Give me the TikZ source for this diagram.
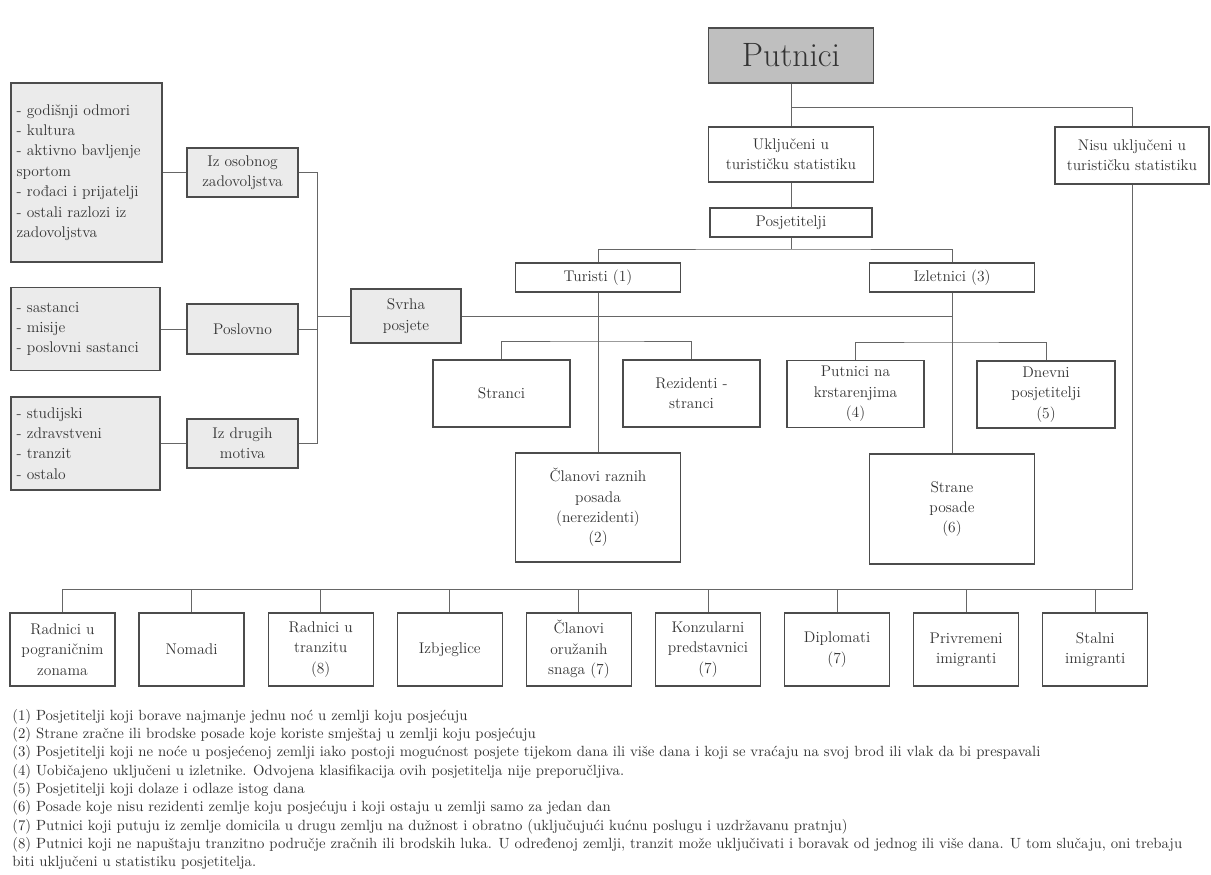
\documentclass[tikz,border=0pt]{standalone}
\usepackage{fontspec}
\begin{document}
\begin{tikzpicture}[x=0.025cm,y=-0.025cm,
    box/.style={draw=black!70,line width=0.9pt,fill=white,text=black!80,align=center,inner sep=2pt,font=\fontsize{11}{14.5}\selectfont},
    greybox/.style={box,fill=black!8},
    listbox/.style={greybox,align=left,inner xsep=4pt},
    link/.style={draw=black!60,line width=0.7pt}]
  \useasboundingbox (0,0) rectangle (1211,875);
  \node[box,fill=black!25,minimum width=4.125cm,minimum height=1.375cm,font=\fontsize{24}{28}\selectfont] (put) at (791,55.5) {Putnici};
  \node[box,minimum width=4.125cm,minimum height=1.375cm] (ukl) at (791,154.5) {Uključeni u\\turističku statistiku};
  \node[box,minimum width=3.85cm,minimum height=1.425cm] (nisu) at (1132,155.5) {Nisu uključeni u\\turističku statistiku};
  \node[box,minimum width=4.05cm,minimum height=0.725cm] (pos) at (791,222.5) {Posjetitelji};
  \node[box,minimum width=4.125cm,minimum height=0.725cm] (tur) at (598,277.5) {Turisti (1)};
  \node[box,minimum width=4.125cm,minimum height=0.725cm] (izl) at (952,277.5) {Izletnici (3)};
  \node[box,minimum width=3.425cm,minimum height=1.675cm] (str) at (501.5,393.5) {Stranci};
  \node[box,minimum width=3.425cm,minimum height=1.675cm] (rez) at (691.5,393.5) {Rezidenti -\\stranci};
  \node[box,minimum width=3.425cm,minimum height=1.675cm] (krs) at (855.5,394) {Putnici na\\krstarenjima\\(4)};
  \node[box,minimum width=3.45cm,minimum height=1.675cm] (dnv) at (1046,394.5) {Dnevni\\posjetitelji\\(5)};
  \node[box,minimum width=4.125cm,minimum height=2.725cm] (clp) at (598,507.5) {Članovi raznih\\posada\\(nerezidenti)\\(2)};
  \node[box,minimum width=4.125cm,minimum height=2.75cm] (stp) at (952,509) {Strane\\posade\\(6)};

  \node[listbox,text width=3.49cm,minimum height=4.475cm] (lst1) at (86.5,172.5) {- godišnji odmori\\- kultura\\- aktivno bavljenje\\sportom\\- rođaci i prijatelji\\- ostali razlozi iz\\zadovoljstva};
  \node[listbox,text width=3.44cm,minimum height=2.075cm] (lst2) at (85.5,329) {- sastanci\\- misije\\- poslovni sastanci};
  \node[listbox,text width=3.44cm,minimum height=2.325cm] (lst3) at (85.5,443.5) {- studijski\\- zdravstveni\\- tranzit\\- ostalo};
  \node[greybox,minimum width=2.775cm,minimum height=1.225cm] (osz) at (242.5,172.5) {Iz osobnog\\zadovoljstva};
  \node[greybox,minimum width=2.775cm,minimum height=1.25cm] (psl) at (242.5,329) {Poslovno};
  \node[greybox,minimum width=2.775cm,minimum height=1.225cm] (drm) at (242.5,443.5) {Iz drugih\\motiva};
  \node[greybox,minimum width=2.75cm,minimum height=1.35cm] (svr) at (406,316) {Svrha\\posjete};

  \foreach \t [count=\i from 0] in {{Radnici u\\pograničnim\\zonama},{Nomadi},{Radnici u\\tranzitu\\(8)},{Izbjeglice},{Članovi\\oružanih\\snaga (7)},{Konzularni\\predstavnici\\(7)},{Diplomati\\(7)},{Privremeni\\imigranti},{Stalni\\imigranti}}
    \node[box,minimum width=2.625cm,minimum height=1.825cm] (b\i) at ({62.5+129.1*\i},649.5) {\t};

  \coordinate (jtop) at (791,107);
  \coordinate (jvis) at (791,249);
  \coordinate (jtur) at (598,341);
  \coordinate (jizl) at (952,342);
  \coordinate (jsvr) at (317,316);
  \coordinate (jbot) at (1132,589);

  \draw[link] (put) -- (ukl);
  \draw[link] (jtop) -| (nisu);
  \draw[link] (ukl) -- (pos);
  \draw[link] (pos) -- (jvis);
  \draw[link] (tur) |- (jvis) -| (izl);
  \draw[link] (tur) -- (clp);
  \draw[link] (izl) -- (stp);
  \draw[link] (str.north) |- (jtur) -| (rez.north);
  \draw[link] (krs.north) |- (jizl) -| (dnv.north);

  \draw[link] (lst1) -- (osz);
  \draw[link] (lst2) -- (psl);
  \draw[link] (lst3) -- (drm);
  \draw[link] (osz.east) -- ++(19,0) |- (drm.east);
  \draw[link] (psl.east) -- (psl.east -| jsvr);
  \draw[link] (jsvr) -- (svr);
  \draw[link] (svr.east) -- (svr.east -| izl);

  \draw[link] (nisu) -- (jbot) -- (jbot -| b0) -- (b0);
  \foreach \i in {1,...,8}
    \draw[link] (jbot -| b\i) -- (b\i);

  \node[anchor=north west,align=left,inner sep=0pt,text=black!80,font=\fontsize{10.5}{13}\selectfont] (fn) at (12,709) {(1) Posjetitelji koji borave najmanje jednu noć u zemlji koju posjećuju\\
(2) Strane zračne ili brodske posade koje koriste smještaj u zemlji koju posjećuju\\
(3) Posjetitelji koji ne noće u posjećenoj zemlji iako postoji mogućnost posjete tijekom dana ili više dana i koji se vraćaju na svoj brod ili vlak da bi prespavali\\
(4) Uobičajeno uključeni u izletnike. Odvojena klasifikacija ovih posjetitelja nije preporučljiva.\\
(5) Posjetitelji koji dolaze i odlaze istog dana\\
(6) Posade koje nisu rezidenti zemlje koju posjećuju i koji ostaju u zemlji samo za jedan dan\\
(7) Putnici koji putuju iz zemlje domicila u drugu zemlju na dužnost i obratno (uključujući kućnu poslugu i uzdržavanu pratnju)\\
(8) Putnici koji ne napuštaju tranzitno područje zračnih ili brodskih luka. U određenoj zemlji, tranzit može uključivati i boravak od jednog ili više dana. U tom slučaju, oni trebaju\\
biti uključeni u statistiku posjetitelja.};
\end{tikzpicture}
\end{document}
